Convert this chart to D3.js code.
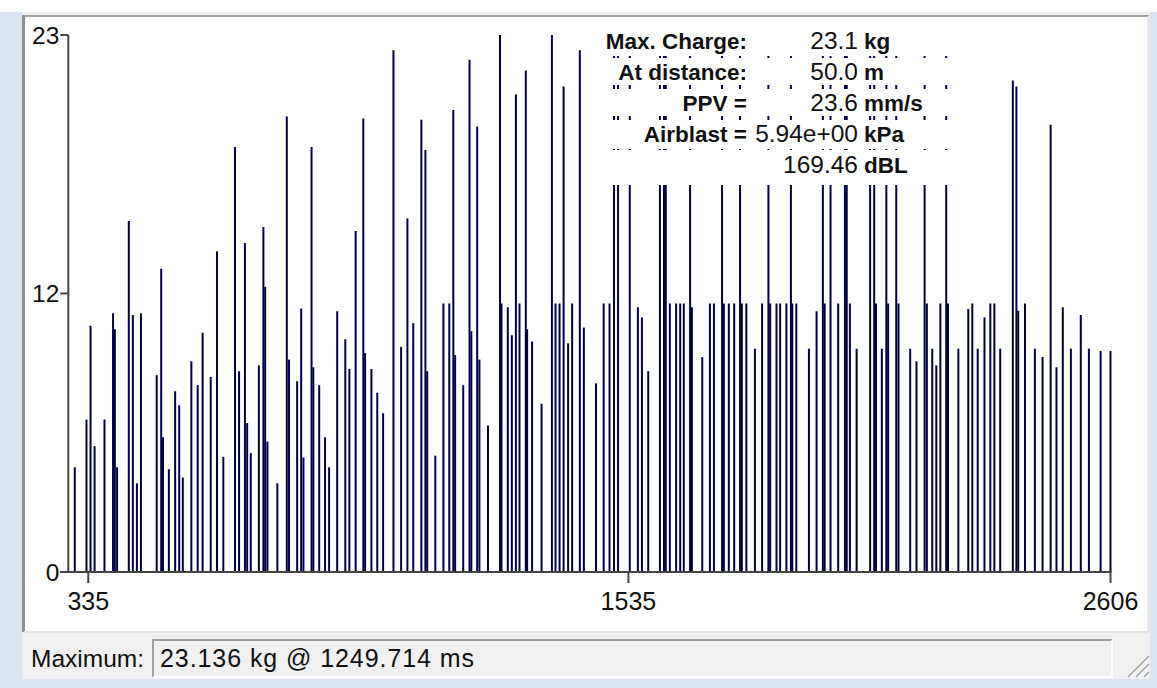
<!DOCTYPE html>
<html><head><meta charset="utf-8">
<script src="https://cdn.jsdelivr.net/npm/d3@7"></script>
<style>
html,body{margin:0;padding:0;background:#fff;overflow:hidden;}
svg{display:block;font-family:"Liberation Sans",Arial,sans-serif;}
</style></head><body>
<svg id="chart" width="1157" height="688"></svg>
<script>
// ---- data ----
const timesMs = [
  305,331,340,349,371,390,394,399,425,434,443,452,487,497,501,514,528,537,545,564,578,
  589,607,621,635,661,670,683,688,696,714,724,728,733,755,776,781,799,808,813,831,835,848,861,870,
  888,906,915,929,946,950,964,977,990,1013,1030,1044,1057,1075,1084,1088,1106,1124,1137,1146,1150,
  1168,1182,1186,1199,1204,1223,1249.714,1253,1267,1276,1285,1293,1307,1310,1321,1342,1365,1373,1382,1391,1401,1410,1427,1436,
  1463,1480,1493,1503,1512,1538,1556,1565,1579,1605,1614,1618,1627,1641,1650,1658,1672,1676,1699,1716,1725,
  1743,1747,1758,1770,1783,1787,1797,1816,1832,1846,1850,1864,1872,1886,1896,1899,1908,1936,1953,1967,1971,1984,2001,2016,2020,2027,
  2042,2072,2081,2085,2098,2108,2112,2130,2135,2161,2175,2193,2198,2210,2219,2228,2241,2245,2268,2290,2299,2311,
  2326,2339,2348,2361,2389,2397,2401,2416,2438,2455,2473,2486,2500,2518,2540,2558,2584,2606
];
const chargesKg = [
  4.51,6.57,10.61,5.42,6.57,11.15,10.46,4.51,15.12,11.07,3.82,11.15,8.48,13.06,5.80,4.43,7.79,7.18,4.07,9.08,8.05,
  10.31,8.40,13.82,4.96,18.31,8.65,14.17,6.42,5.12,8.90,14.86,12.29,5.62,3.82,19.62,9.15,8.22,11.35,4.93,18.31,8.82,8.05,5.80,4.51,
  11.23,10.03,8.75,14.69,19.54,9.43,8.75,7.72,6.84,22.48,9.70,15.23,10.72,19.48,18.18,8.65,5.01,11.57,11.57,19.90,9.35,
  8.05,22.07,10.38,19.19,9.15,6.31,23.136,11.57,11.41,10.20,20.57,11.57,21.61,10.46,9.93,7.25,23.136,11.57,11.57,20.92,9.85,11.57,22.48,10.53,
  8.13,11.57,11.57,23.136,23.136,23.136,11.41,10.97,8.65,23.136,23.136,23.136,11.57,11.57,11.57,11.57,23.136,11.41,9.26,11.57,11.57,
  23.136,11.57,11.57,11.57,23.136,11.57,11.57,9.62,11.57,23.136,11.57,11.57,11.57,11.57,23.136,11.57,11.57,9.62,11.23,23.136,11.57,23.136,11.57,23.136,23.136,11.57,
  9.62,23.136,23.136,11.57,9.62,23.136,11.57,23.136,11.57,9.62,9.08,23.136,11.57,9.62,8.90,11.57,23.136,11.57,9.62,11.33,11.57,9.62,
  10.97,11.57,11.57,9.62,21.18,20.92,11.26,11.57,9.62,9.26,19.27,8.82,11.41,9.62,11.07,9.62,9.52,9.52
];
const xDomain = [290.6, 2606];
const yDomain = [0, 23.136];
const xTickValues = [335, 1535, 2606];
const xTickLabels = ["335", "1535", "2606"];
const yTickValues = [0, 12, 23.136];
const yTickLabels = ["0", "12", "23"];
const infoLabels = ["Max. Charge:", "At distance:", "PPV =", "Airblast =", ""];
const infoValues = ["23.1", "50.0", "23.6", "5.94e+00", "169.46"];
const infoUnits  = ["kg", "m", "mm/s", "kPa", "dBL"];
const statusLabel = "Maximum:";
const statusValue = "23.136 kg @ 1249.714 ms";

// ---- drawing ----
const svg = d3.select("#chart");
const W = 1157, H = 688;

// window chrome
svg.append("rect").attr("x",0).attr("y",0).attr("width",W).attr("height",H).attr("fill","#ffffff");
svg.append("rect").attr("x",0).attr("y",12).attr("width",W).attr("height",H-12).attr("fill","#dbe5f1");
svg.append("rect").attr("x",22).attr("y",12).attr("width",1128).attr("height",667).attr("fill","#f0f0f0");
svg.append("rect").attr("x",25).attr("y",17).attr("width",1123).attr("height",614).attr("fill","#ffffff");
svg.append("line").attr("x1",22).attr("x2",1149).attr("y1",16).attr("y2",16).attr("stroke","#a0a0a0").attr("stroke-width",2);
svg.append("line").attr("x1",23.5).attr("x2",23.5).attr("y1",15).attr("y2",632).attr("stroke","#8f8f8f").attr("stroke-width",3);
svg.append("line").attr("x1",24).attr("x2",1149).attr("y1",632).attr("y2",632).attr("stroke","#e3e3e3").attr("stroke-width",2);
svg.append("line").attr("x1",1148.5).attr("x2",1148.5).attr("y1",16).attr("y2",633).attr("stroke","#e3e3e3").attr("stroke-width",2);

const x = d3.scaleLinear().domain(xDomain).range([68.3, 1110.5]);
const y = d3.scaleLinear().domain(yDomain).range([572, 35]);

const plot = svg.append("g");
const bars = timesMs.map((t, i) => ({t, v: chargesKg[i]}));
plot.selectAll("line.bar").data(bars).join("line")
  .attr("class","bar")
  .attr("x1", d => x(d.t)).attr("x2", d => x(d.t))
  .attr("y1", y(0)).attr("y2", d => y(d.v))
  .attr("stroke","#000045").attr("stroke-width",2);

// axes
const axisColor = "#444444";
svg.append("line").attr("x1", x(xDomain[0])).attr("x2", x(xDomain[0]))
  .attr("y1", y(yDomain[1])).attr("y2", y(0)).attr("stroke", axisColor).attr("stroke-width", 2);
svg.append("line").attr("x1", x(xDomain[0]) - 8).attr("x2", x(xDomain[1]) + 1)
  .attr("y1", y(0)).attr("y2", y(0)).attr("stroke", axisColor).attr("stroke-width", 2);

const yt = svg.append("g");
yTickValues.forEach((v, i) => {
  yt.append("line").attr("x1", x(xDomain[0]) - 8).attr("x2", x(xDomain[0]))
    .attr("y1", y(v)).attr("y2", y(v)).attr("stroke", axisColor).attr("stroke-width", 2);
  yt.append("text").attr("x", x(xDomain[0]) - 9).attr("y", y(v)).attr("dy", "0.36em")
    .attr("text-anchor","end").attr("font-size", 24.5).attr("fill","#111")
    .text(yTickLabels[i]);
});
const xt = svg.append("g");
xTickValues.forEach((v, i) => {
  xt.append("line").attr("x1", x(v)).attr("x2", x(v))
    .attr("y1", y(0)).attr("y2", y(0) + 11).attr("stroke", axisColor).attr("stroke-width", 2);
  xt.append("text").attr("x", x(v)).attr("y", 610)
    .attr("text-anchor","middle").attr("font-size", 25).attr("fill","#111")
    .text(xTickLabels[i]);
});

// info box (white row backgrounds with thin gaps)
const info = svg.append("g");
const rowBase = [49, 80, 111, 142, 173];
const rowTop = [27, 58, 89, 120, 150];
const rowBottom = [56, 85, 116, 149, 185];
rowBase.forEach((b, i) => {
  info.append("rect").attr("x", 603).attr("y", rowTop[i]).attr("width", 350)
    .attr("height", rowBottom[i] - rowTop[i]).attr("fill", "#ffffff");
});
rowBase.forEach((b, i) => {
  if (infoLabels[i]) info.append("text").attr("x", 747).attr("y", b).attr("text-anchor","end")
    .attr("font-weight","bold").attr("font-size", 22.5).attr("fill","#111").text(infoLabels[i]);
  info.append("text").attr("x", 858).attr("y", b).attr("text-anchor","end")
    .attr("font-size", 24.5).attr("fill","#111").text(infoValues[i]);
  info.append("text").attr("x", 864).attr("y", b).attr("text-anchor","start")
    .attr("font-weight","bold").attr("font-size", 22.5).attr("fill","#111").text(infoUnits[i]);
});

// status bar
svg.append("text").attr("x", 31).attr("y", 667).attr("font-size", 24.5).attr("fill","#111").text(statusLabel);
svg.append("rect").attr("x", 152.5).attr("y", 639.5).attr("width", 959).attr("height", 37)
  .attr("fill", "#f0f0f0").attr("stroke", "none");
svg.append("path").attr("d", "M153,677 L153,640 L1112,640").attr("fill","none").attr("stroke","#a0a0a0").attr("stroke-width",2);
svg.append("path").attr("d", "M153,677 L1112,677 L1112,640").attr("fill","none").attr("stroke","#ffffff").attr("stroke-width",1.5);
svg.append("text").attr("x", 160).attr("y", 667).attr("font-size", 25).attr("fill","#111")
  .attr("textLength", 314).attr("lengthAdjust", "spacing").text(statusValue);

// resize grip
const grip = svg.append("g");
[0, 8, 16].forEach(o => {
  grip.append("line").attr("x1", 1128 + o).attr("y1", 677).attr("x2", 1149).attr("y2", 656 + o)
    .attr("stroke", "#a0a0a0").attr("stroke-width", 1.5);
  grip.append("line").attr("x1", 1130 + o).attr("y1", 677).attr("x2", 1149).attr("y2", 658 + o)
    .attr("stroke", "#ffffff").attr("stroke-width", 1);
});
</script>
</body></html>
